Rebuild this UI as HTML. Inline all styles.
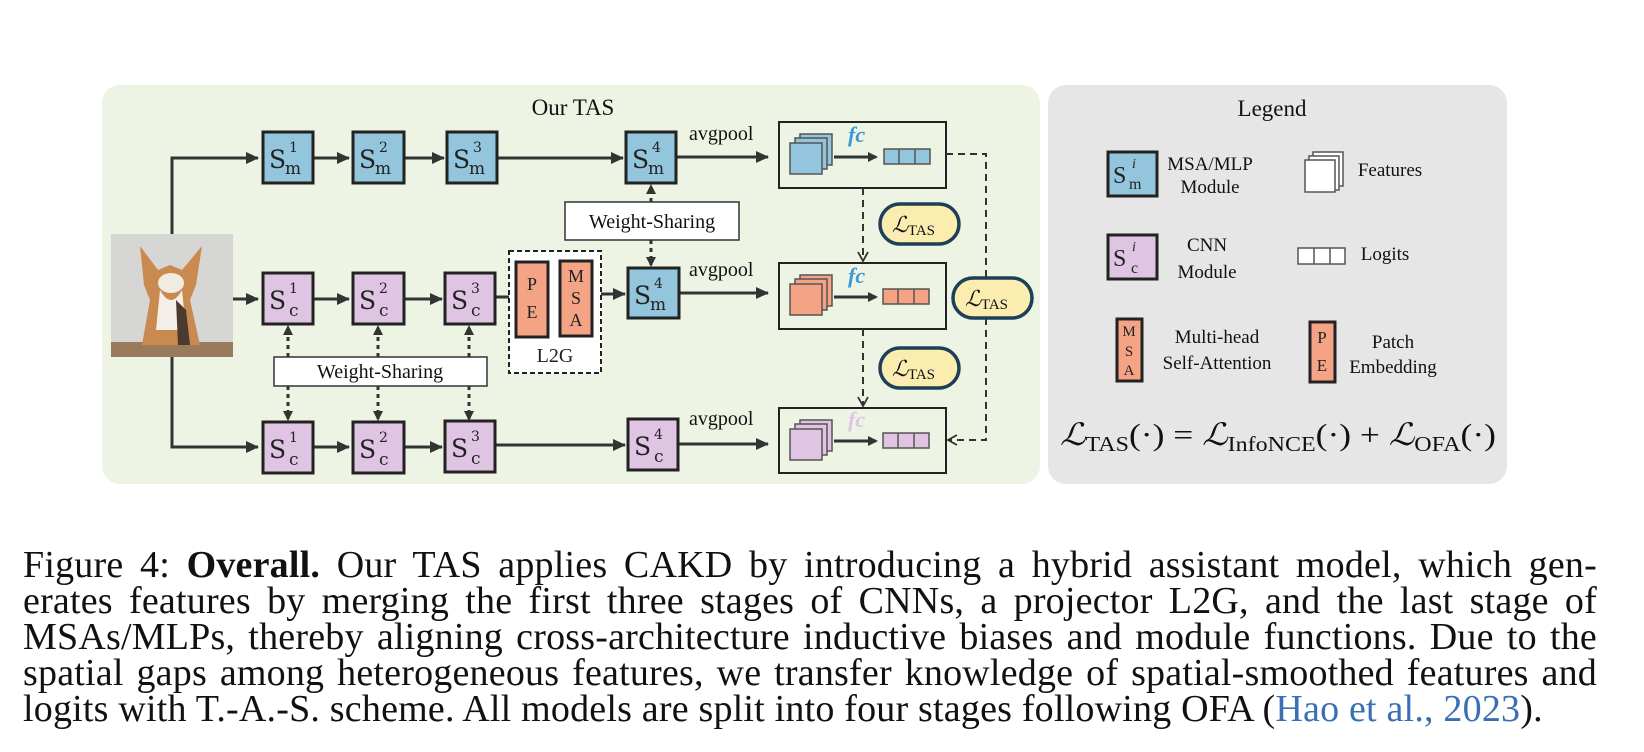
<!DOCTYPE html>
<html><head><meta charset="utf-8"><style>
body{margin:0;background:#fff;width:1644px;height:752px;overflow:hidden;position:relative;font-family:"Liberation Serif",serif}
svg{position:absolute;left:0;top:0}
.cap{position:absolute;left:23px;width:1574px;font-size:38px;letter-spacing:0.2px;line-height:36px;color:#111;white-space:nowrap}
.j{text-align:justify;text-align-last:justify}
</style></head><body>
<svg width="1644" height="752" viewBox="0 0 1644 752" font-family="Liberation Serif, serif">
<defs>
<marker id="ah" markerWidth="10" markerHeight="10" refX="8" refY="5" orient="auto" markerUnits="userSpaceOnUse"><path d="M0,0 L10,5 L0,10 Z" fill="#333"/></marker>
<marker id="ah2" markerWidth="14" markerHeight="14" refX="12" refY="7" orient="auto" markerUnits="userSpaceOnUse"><path d="M0,1 L13,7 L0,13 Z" fill="#333"/></marker>
<marker id="ov" markerWidth="12" markerHeight="12" refX="10" refY="6" orient="auto" markerUnits="userSpaceOnUse"><path d="M1,1 L10,6 L1,11" fill="none" stroke="#333" stroke-width="1.8"/></marker>
</defs>
<rect x="102" y="85" width="938" height="399" rx="18" fill="#eef4e4"/>
<rect x="1048" y="85" width="459" height="399" rx="18" fill="#e6e6e6"/>
<text x="573" y="115" font-size="23" text-anchor="middle" fill="#111">Our TAS</text>
<text x="1272" y="116" font-size="23" text-anchor="middle" fill="#111">Legend</text>

<rect x="111" y="234" width="122" height="123" fill="#d6d6d4"/>
<rect x="111" y="342" width="122" height="15" fill="#9a7a5c"/>
<path d="M140,246 L158,270 L170,265 L182,270 L202,246 L196,285 L190,300 L200,345 L142,345 L150,300 L144,285 Z" fill="#c98a4f"/>
<path d="M160,290 Q171,310 182,290 L186,330 L156,330 Z" fill="#f3efe8"/>
<ellipse cx="171" cy="283" rx="13" ry="10" fill="#f1ebe2"/>
<path d="M176,300 L186,310 L190,345 L178,345 Z" fill="#4a3a30"/>

<line x1="172" y1="234" x2="172" y2="158" stroke="#333" stroke-width="3"/>
<line x1="170.5" y1="158" x2="258" y2="158" stroke="#333" stroke-width="3" marker-end="url(#ah2)"/>
<line x1="172" y1="357" x2="172" y2="447" stroke="#333" stroke-width="3"/>
<line x1="170.5" y1="447" x2="258" y2="447" stroke="#333" stroke-width="3" marker-end="url(#ah2)"/>
<line x1="233" y1="299" x2="258" y2="299" stroke="#333" stroke-width="3" marker-end="url(#ah2)"/>

<g stroke="#333" stroke-width="3">
<line x1="313" y1="158" x2="349" y2="158" marker-end="url(#ah2)"/>
<line x1="404" y1="158" x2="444" y2="158" marker-end="url(#ah2)"/>
<line x1="497" y1="158" x2="623" y2="158" marker-end="url(#ah2)"/>
<line x1="676" y1="157" x2="768" y2="157" marker-end="url(#ah2)"/>
<line x1="313" y1="299" x2="349" y2="299" marker-end="url(#ah2)"/>
<line x1="404" y1="299" x2="442" y2="299" marker-end="url(#ah2)"/>
<line x1="495" y1="297" x2="509" y2="297"/>
<line x1="601" y1="294" x2="625" y2="294" marker-end="url(#ah2)"/>
<line x1="679" y1="293" x2="768" y2="293" marker-end="url(#ah2)"/>
<line x1="313" y1="447" x2="349" y2="447" marker-end="url(#ah2)"/>
<line x1="404" y1="447" x2="442" y2="447" marker-end="url(#ah2)"/>
<line x1="495" y1="445" x2="625" y2="445" marker-end="url(#ah2)"/>
<line x1="678" y1="444" x2="768" y2="444" marker-end="url(#ah2)"/>
</g>
<g font-size="20" fill="#111"><text x="689" y="140">avgpool</text><text x="689" y="276">avgpool</text><text x="689" y="425">avgpool</text></g>

<g stroke="#333" stroke-width="3" stroke-dasharray="4,4">
<line x1="651" y1="202" x2="651" y2="186" marker-end="url(#ah)"/>
<line x1="651" y1="240" x2="651" y2="265" marker-end="url(#ah)"/>
<line x1="288" y1="357" x2="288" y2="327" marker-end="url(#ah)"/>
<line x1="378" y1="357" x2="378" y2="327" marker-end="url(#ah)"/>
<line x1="469" y1="357" x2="469" y2="327" marker-end="url(#ah)"/>
<line x1="288" y1="386" x2="288" y2="419" marker-end="url(#ah)"/>
<line x1="378" y1="386" x2="378" y2="419" marker-end="url(#ah)"/>
<line x1="469" y1="386" x2="469" y2="419" marker-end="url(#ah)"/>
</g>
<rect x="565" y="202" width="174" height="38" fill="#fff" stroke="#333" stroke-width="1.5"/>
<text x="652" y="228" font-size="20" text-anchor="middle" fill="#111">Weight-Sharing</text>
<rect x="274" y="357" width="213" height="29" fill="#fff" stroke="#333" stroke-width="1.5"/>
<text x="380" y="378" font-size="20" text-anchor="middle" fill="#111">Weight-Sharing</text>

<rect x="509" y="251" width="92" height="122" fill="#fff" stroke="#222" stroke-width="2" stroke-dasharray="5,3"/>
<rect x="516" y="262" width="32" height="75" fill="#f4a485" stroke="#222" stroke-width="3"/>
<rect x="560" y="261" width="32" height="75" fill="#f4a485" stroke="#222" stroke-width="3"/>
<g font-size="18" fill="#222" text-anchor="middle">
<text x="532" y="290">P</text><text x="532" y="318">E</text>
<text x="576" y="282">M</text><text x="576" y="304">S</text><text x="576" y="326">A</text>
<text x="555" y="362" font-size="20">L2G</text></g>

<g stroke="#222" stroke-width="3">
<rect x="263" y="132" width="50" height="51" fill="#93c5dc"/>
<rect x="353" y="132" width="51" height="51" fill="#93c5dc"/>
<rect x="447" y="132" width="50" height="51" fill="#93c5dc"/>
<rect x="626" y="132" width="50" height="51" fill="#93c5dc"/>
<rect x="628" y="268" width="51" height="50" fill="#93c5dc"/>
<rect x="263" y="273" width="50" height="51" fill="#dfc5e3"/>
<rect x="353" y="273" width="51" height="51" fill="#dfc5e3"/>
<rect x="445" y="273" width="50" height="51" fill="#dfc5e3"/>
<rect x="263" y="422" width="50" height="51" fill="#dfc5e3"/>
<rect x="353" y="422" width="51" height="51" fill="#dfc5e3"/>
<rect x="445" y="421" width="50" height="51" fill="#dfc5e3"/>
<rect x="628" y="419" width="50" height="51" fill="#dfc5e3"/>
</g>
<g fill="#222" font-family="DejaVu Serif, serif">
<g font-size="25">
<text x="269" y="168">S</text><text x="359" y="168">S</text><text x="453" y="168">S</text><text x="632" y="168">S</text><text x="634" y="304">S</text>
<text x="269" y="309">S</text><text x="359" y="309">S</text><text x="451" y="309">S</text>
<text x="269" y="458">S</text><text x="359" y="458">S</text><text x="451" y="457">S</text><text x="634" y="455">S</text></g>
<g font-size="14">
<text x="289" y="152">1</text><text x="379" y="152">2</text><text x="473" y="152">3</text><text x="652" y="152">4</text><text x="654" y="288">4</text>
<text x="289" y="293">1</text><text x="379" y="293">2</text><text x="471" y="293">3</text>
<text x="289" y="442">1</text><text x="379" y="442">2</text><text x="471" y="441">3</text><text x="654" y="439">4</text></g>
<g font-size="17">
<text x="285" y="174">m</text><text x="375" y="174">m</text><text x="469" y="174">m</text><text x="648" y="174">m</text><text x="650" y="310">m</text>
<text x="289" y="316">c</text><text x="379" y="316">c</text><text x="471" y="316">c</text>
<text x="289" y="465">c</text><text x="379" y="465">c</text><text x="471" y="464">c</text><text x="654" y="462">c</text></g>
</g>

<g stroke="#222" stroke-width="2" fill="none">
<rect x="779" y="122" width="167" height="66"/>
<rect x="779" y="263" width="167" height="66"/>
<rect x="779" y="408" width="167" height="65"/>
</g>
<g stroke="#555" stroke-width="1.5">
<rect x="800" y="134" width="32" height="31" fill="#93c5dc"/><rect x="795" y="138" width="32" height="31" fill="#93c5dc"/><rect x="790" y="143" width="32" height="31" fill="#93c5dc"/>
<rect x="884" y="149" width="46" height="15" fill="#93c5dc"/><line x1="899" y1="149" x2="899" y2="164"/><line x1="915" y1="149" x2="915" y2="164"/>
<rect x="800" y="275" width="32" height="31" fill="#f4a485"/><rect x="795" y="279" width="32" height="31" fill="#f4a485"/><rect x="790" y="284" width="32" height="31" fill="#f4a485"/>
<rect x="883" y="289" width="46" height="15" fill="#f4a485"/><line x1="898" y1="289" x2="898" y2="304"/><line x1="914" y1="289" x2="914" y2="304"/>
<rect x="800" y="420" width="32" height="31" fill="#dfc5e3"/><rect x="795" y="424" width="32" height="31" fill="#dfc5e3"/><rect x="790" y="429" width="32" height="31" fill="#dfc5e3"/>
<rect x="883" y="433" width="46" height="15" fill="#dfc5e3"/><line x1="898" y1="433" x2="898" y2="448"/><line x1="914" y1="433" x2="914" y2="448"/>
</g>
<g stroke="#333" stroke-width="3">
<line x1="834" y1="157" x2="876" y2="157" marker-end="url(#ah)"/>
<line x1="834" y1="297" x2="876" y2="297" marker-end="url(#ah)"/>
<line x1="834" y1="441" x2="876" y2="441" marker-end="url(#ah)"/>
</g>
<g font-size="22" font-style="italic" font-weight="bold">
<text x="848" y="142" fill="#3a9ad6">fc</text>
<text x="848" y="283" fill="#3a9ad6">fc</text>
<text x="848" y="427" fill="#e0c4e6">fc</text></g>

<g stroke="#333" stroke-width="2" stroke-dasharray="7,5" fill="none">
<line x1="863" y1="188" x2="863" y2="261" marker-end="url(#ov)"/>
<line x1="863" y1="329" x2="863" y2="406" marker-end="url(#ov)"/>
<polyline points="946,154 986,154 986,440 948,440" marker-end="url(#ov)"/>
</g>
<g stroke="#1d3f57" stroke-width="3.5" fill="#fbecb0">
<rect x="880" y="204" width="79" height="40" rx="20"/>
<rect x="953" y="278" width="79" height="40" rx="20"/>
<rect x="880" y="348" width="79" height="40" rx="20"/>
</g>
<g fill="#111" font-size="22">
<text x="892" y="232" font-style="italic">ℒ<tspan font-size="15" font-style="normal" dy="3">TAS</tspan></text>
<text x="965" y="306" font-style="italic">ℒ<tspan font-size="15" font-style="normal" dy="3">TAS</tspan></text>
<text x="892" y="376" font-style="italic">ℒ<tspan font-size="15" font-style="normal" dy="3">TAS</tspan></text>
</g>

<rect x="1108" y="152" width="49" height="44" fill="#93c5dc" stroke="#222" stroke-width="3"/>
<text x="1113" y="183" font-size="24" fill="#222">S</text><text x="1132" y="168" font-size="14" font-style="italic" fill="#222">i</text><text x="1129" y="189" font-size="16" fill="#222">m</text>
<rect x="1108" y="235" width="49" height="44" fill="#dfc5e3" stroke="#222" stroke-width="3"/>
<text x="1113" y="266" font-size="24" fill="#222">S</text><text x="1132" y="251" font-size="14" font-style="italic" fill="#222">i</text><text x="1131" y="273" font-size="16" fill="#222">c</text>
<g fill="#fff" stroke="#555" stroke-width="1.5">
<rect x="1313" y="152" width="30" height="34"/><rect x="1309" y="156" width="30" height="34"/><rect x="1305" y="160" width="30" height="32"/>
<rect x="1298" y="248" width="47" height="16"/><line x1="1314" y1="248" x2="1314" y2="264"/><line x1="1330" y1="248" x2="1330" y2="264"/>
</g>
<rect x="1117" y="319" width="25" height="62" fill="#f4a485" stroke="#222" stroke-width="3"/>
<rect x="1310" y="322" width="25" height="60" fill="#f4a485" stroke="#222" stroke-width="3"/>
<g font-size="15" fill="#222" text-anchor="middle"><text x="1129" y="336">M</text><text x="1129" y="356">S</text><text x="1129" y="375">A</text>
<text x="1322" y="343" font-size="17">P</text><text x="1322" y="371" font-size="17">E</text></g>
<g font-size="19" fill="#111" text-anchor="middle">
<text x="1210" y="170">MSA/MLP</text><text x="1210" y="193">Module</text>
<text x="1207" y="251">CNN</text><text x="1207" y="278">Module</text>
<text x="1217" y="343">Multi-head</text><text x="1217" y="369">Self-Attention</text>
<text x="1393" y="348">Patch</text><text x="1393" y="373">Embedding</text>
<text x="1390" y="176">Features</text><text x="1385" y="260">Logits</text>
</g>
<text x="1060" y="445" font-size="31" fill="#111" textLength="436" lengthAdjust="spacingAndGlyphs"><tspan font-style="italic">ℒ</tspan><tspan font-size="21" dy="6">TAS</tspan><tspan dy="-6">(·) = </tspan><tspan font-style="italic">ℒ</tspan><tspan font-size="21" dy="6">InfoNCE</tspan><tspan dy="-6">(·) + </tspan><tspan font-style="italic">ℒ</tspan><tspan font-size="21" dy="6">OFA</tspan><tspan dy="-6">(·)</tspan></text>
</svg>

<div class="cap j" style="top:547px">Figure 4: <b>Overall.</b> Our TAS applies CAKD by introducing a hybrid assistant model, which gen-</div>
<div class="cap j" style="top:583px">erates features by merging the first three stages of CNNs, a projector L2G, and the last stage of</div>
<div class="cap j" style="top:619px">MSAs/MLPs, thereby aligning cross-architecture inductive biases and module functions. Due to the</div>
<div class="cap j" style="top:655px">spatial gaps among heterogeneous features, we transfer knowledge of spatial-smoothed features and</div>
<div class="cap" style="top:691px">logits with T.-A.-S. scheme. All models are split into four stages following OFA (<span style="color:#3a6fb5">Hao et al., 2023</span>).</div>
</body></html>
